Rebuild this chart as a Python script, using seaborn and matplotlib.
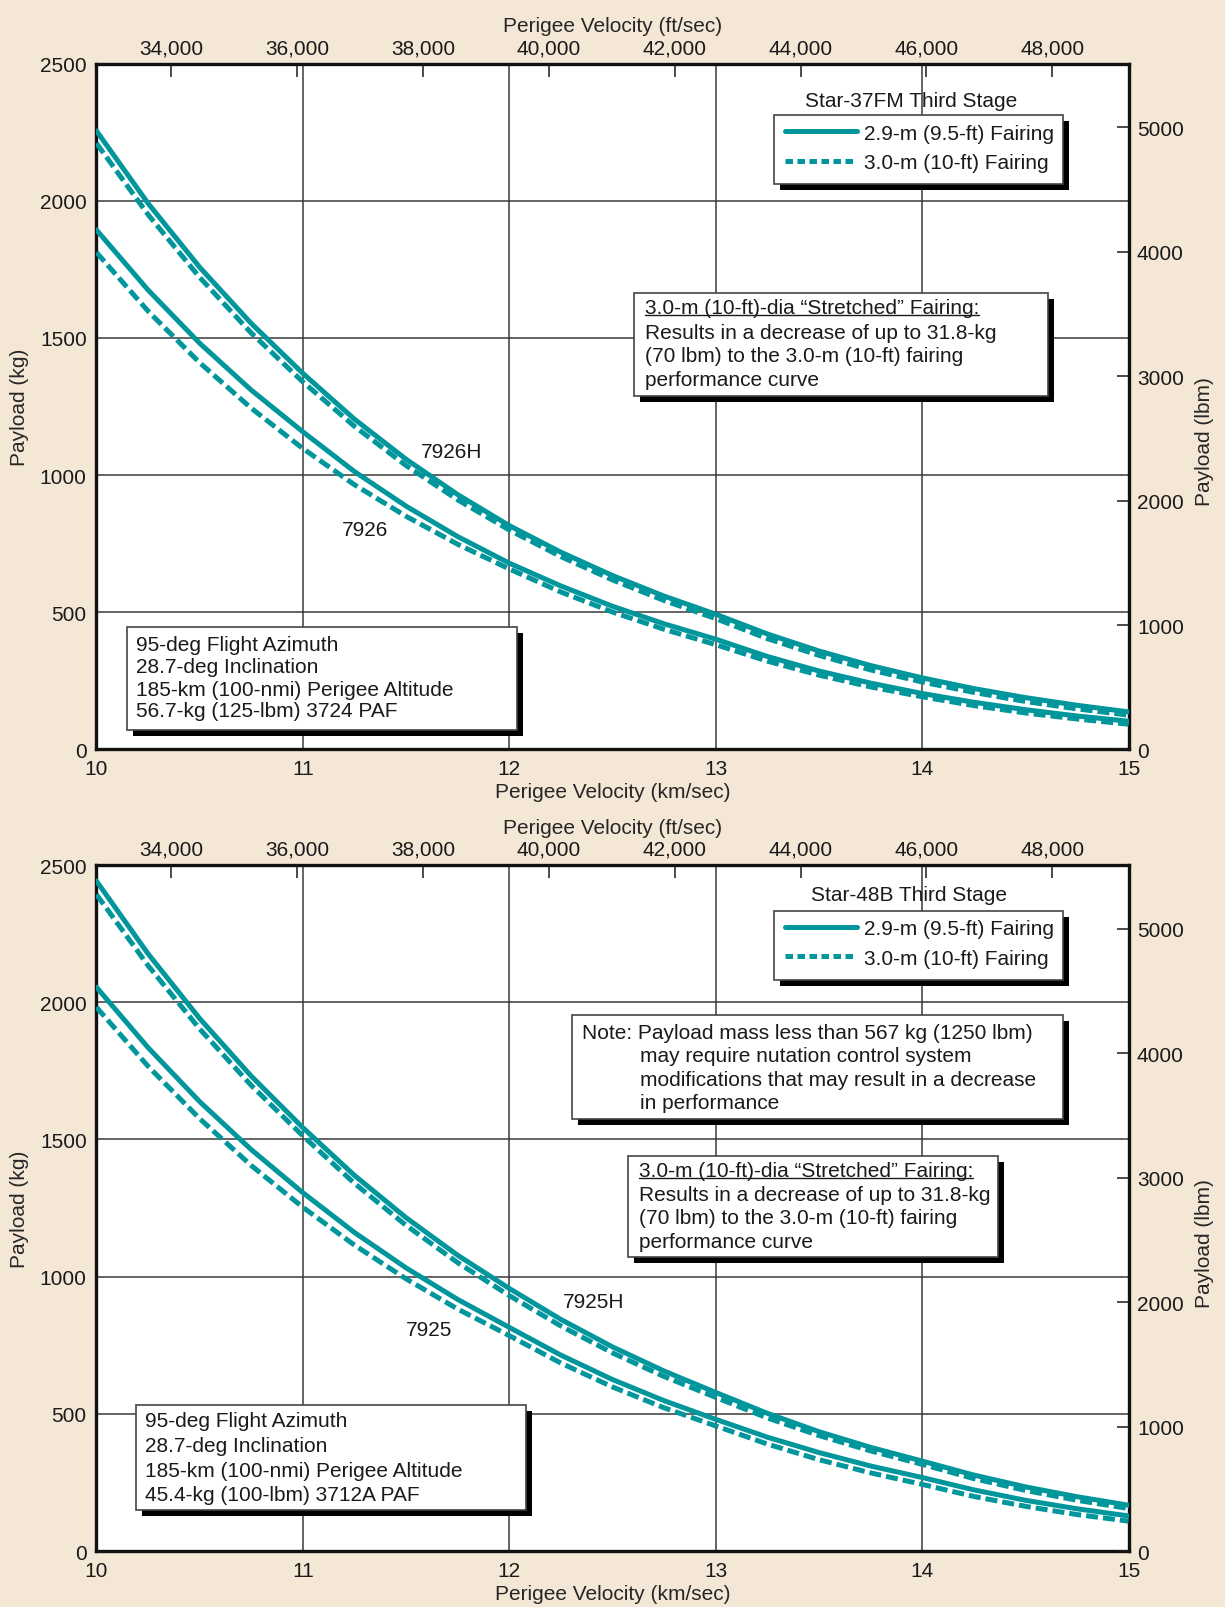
import matplotlib
matplotlib.use('Agg')
import pandas as pd
import matplotlib.pyplot as plt
import seaborn as sns
from matplotlib.patches import Rectangle
from matplotlib.lines import Line2D
from matplotlib.transforms import offset_copy
from matplotlib.ticker import FuncFormatter

# Perigee velocity (km/sec) sample points
velocity_kms = [10.0, 10.25, 10.5, 10.75, 11.0, 11.25, 11.5, 11.75, 12.0, 12.25, 12.5,
                12.75, 13.0, 13.25, 13.5, 13.75, 14.0, 14.25, 14.5, 14.75, 15.0]

# Star-37FM third stage, payload (kg)
v7926h_29 = [2255, 1991, 1758, 1553, 1371, 1204, 1058, 929, 816, 719, 634,
             559, 493, 421, 359, 306, 261, 222, 189, 161, 137]
v7926h_30 = [2210, 1950, 1721, 1518, 1340, 1178, 1035, 910, 800, 703, 618,
             543, 477, 404, 343, 290, 246, 208, 175, 148, 125]
v7926_29 = [1894, 1675, 1481, 1310, 1158, 1013, 887, 776, 679, 596, 522,
            458, 402, 339, 286, 242, 204, 172, 145, 122, 103]
v7926_30 = [1812, 1598, 1410, 1244, 1097, 965, 850, 748, 658, 574, 501,
            438, 382, 322, 271, 228, 192, 160, 133, 111, 92]

# Star-48B third stage, payload (kg)
v7925h_29 = [2442, 2177, 1941, 1731, 1543, 1369, 1215, 1078, 957, 844, 744,
             656, 578, 502, 435, 378, 328, 277, 234, 198, 167]
v7925h_30 = [2393, 2134, 1903, 1697, 1513, 1340, 1187, 1051, 931, 820, 722,
             636, 560, 485, 421, 365, 316, 264, 221, 185, 155]
v7925_29 = [2055, 1835, 1638, 1463, 1306, 1161, 1032, 917, 815, 714, 625,
            548, 480, 415, 359, 310, 268, 223, 185, 154, 128]
v7925_30 = [1982, 1767, 1576, 1405, 1253, 1115, 992, 882, 785, 685, 598,
            522, 456, 390, 333, 285, 243, 199, 163, 133, 109]

fairings = ['2.9-m (9.5-ft) Fairing', '3.0-m (10-ft) Fairing']
ft_ticks = [34000, 36000, 38000, 40000, 42000, 44000, 46000, 48000]
lbm_ticks = [0, 1000, 2000, 3000, 4000, 5000]

KM_TO_FT = 3280.84
KG_TO_LB = 2.20462
TEAL = '#00969c'
BEIGE = '#f4e7d5'
FS = 15


def make_df(curves):
    rows = []
    for vehicle, fairing, vals in curves:
        for v, p in zip(velocity_kms, vals):
            rows.append({'km': v, 'kg': p, 'vehicle': vehicle, 'fairing': fairing})
    return pd.DataFrame(rows)


df_top = make_df([('7926H', fairings[0], v7926h_29), ('7926H', fairings[1], v7926h_30),
                  ('7926', fairings[0], v7926_29), ('7926', fairings[1], v7926_30)])
df_bot = make_df([('7925H', fairings[0], v7925h_29), ('7925H', fairings[1], v7925h_30),
                  ('7925', fairings[0], v7925_29), ('7925', fairings[1], v7925_30)])

sns.set_theme(style='white')
plt.rcParams['font.family'] = ['Liberation Sans', 'DejaVu Sans']
plt.rcParams['text.color'] = '#1a1a1a'

fig = plt.figure(figsize=(12.25, 16.08), dpi=100, facecolor=BEIGE)
ax1 = fig.add_axes([0.0787, 0.5333, 0.8426, 0.4265])
ax2 = fig.add_axes([0.0787, 0.0348, 0.8426, 0.4266])

DASH = (2.4, 1.0)
LW = 3.6


def box(ax, x0, y0, x1, y1):
    sh = offset_copy(ax.transData, fig=fig, x=6, y=-6, units='dots')
    ax.add_patch(Rectangle((x0, y0), x1 - x0, y1 - y0, transform=sh,
                           facecolor='black', edgecolor='none', zorder=4))
    ax.add_patch(Rectangle((x0, y0), x1 - x0, y1 - y0, facecolor='white',
                           edgecolor='#444444', linewidth=1.2, zorder=4.5))


def lines_text(ax, x, ys, texts, xs=None):
    out = []
    for i, (y, t) in enumerate(zip(ys, texts)):
        xx = x if xs is None else xs[i]
        out.append(ax.text(xx, y, t, fontsize=FS, va='center', ha='left', zorder=6))
    return out


def setup(ax, df, legend_xy):
    sns.lineplot(data=df, x='km', y='kg', style='fairing', units='vehicle',
                 estimator=None, color=TEAL, linewidth=LW, legend=False,
                 style_order=fairings, dashes={fairings[0]: '', fairings[1]: DASH},
                 sort=False, ax=ax, zorder=3)
    ax.set_facecolor('white')
    ax.set_xlim(10, 15)
    ax.set_ylim(0, 2500)
    ax.set_xticks([10, 11, 12, 13, 14, 15])
    ax.set_yticks([0, 500, 1000, 1500, 2000, 2500])
    ax.grid(True, color='#3a3a3a', linewidth=1.1)
    ax.set_axisbelow(True)
    for s in ax.spines.values():
        s.set_color('#111111')
        s.set_linewidth(2.4)
    ax.tick_params(length=0, pad=7, labelsize=FS, colors='#1a1a1a')
    ax.set_xlabel('Perigee Velocity (km/sec)', fontsize=FS, labelpad=3)
    ax.set_ylabel('Payload (kg)', fontsize=FS, labelpad=8)

    axt = ax.twiny()
    axt.set_xlim(10 * KM_TO_FT, 15 * KM_TO_FT)
    axt.set_xticks(ft_ticks)
    axt.xaxis.set_major_formatter(FuncFormatter(lambda v, p: f'{int(v):,}'))
    axt.tick_params(axis='x', direction='in', length=9, width=1.1, pad=4.5,
                    labelsize=FS, colors='#1a1a1a')
    axt.set_xlabel('Perigee Velocity (ft/sec)', fontsize=FS, labelpad=5)
    axr = ax.twinx()
    axr.set_ylim(0, 2500 * KG_TO_LB)
    axr.set_yticks(lbm_ticks)
    axr.tick_params(axis='y', direction='in', length=9, width=1.1, pad=6,
                    labelsize=FS, colors='#1a1a1a')
    axr.set_ylabel('Payload (lbm)', fontsize=FS)
    axr.yaxis.set_label_coords(1.064, 0.45)
    for a in (axt, axr):
        for s in a.spines.values():
            s.set_visible(False)
        a.grid(False)

    handles = [Line2D([], [], color=TEAL, lw=LW),
               Line2D([], [], color=TEAL, lw=LW, dashes=(1.5, 0.9))]
    ax.legend(handles, fairings, loc='center left', bbox_to_anchor=legend_xy,
              bbox_transform=ax.transData, frameon=False, borderpad=0,
              borderaxespad=0, handlelength=3.45, handletextpad=0.35,
              labelspacing=0.5, fontsize=FS).set_zorder(6)


# ---- top panel: Star-37FM ----
setup(ax1, df_top, (13.336, 2193))
ax1.text(13.947, 2365, 'Star-37FM Third Stage', fontsize=FS, ha='center', va='center', zorder=6)
box(ax1, 13.282, 2063, 14.682, 2313)
box(ax1, 12.602, 1289, 14.608, 1663)
stretched1 = lines_text(ax1, 12.656, [1611, 1521, 1435, 1349],
                        ['3.0-m (10-ft)-dia \u201cStretched\u201d Fairing:',
                         'Results in a decrease of up to 31.8-kg',
                         '(70 lbm) to the 3.0-m (10-ft) fairing',
                         'performance curve'])
box(ax1, 10.149, 71, 12.036, 448)
lines_text(ax1, 10.194, [381, 303, 220, 142],
           ['95-deg Flight Azimuth', '28.7-deg Inclination',
            '185-km (100-nmi) Perigee Altitude', '56.7-kg (125-lbm) 3724 PAF'])
ax1.text(11.72, 1087, '7926H', fontsize=FS, ha='center', va='center', zorder=6)
ax1.text(11.30, 803, '7926', fontsize=FS, ha='center', va='center', zorder=6)

# ---- bottom panel: Star-48B ----
setup(ax2, df_bot, (13.336, 2214))
ax2.text(13.937, 2392, 'Star-48B Third Stage', fontsize=FS, ha='center', va='center', zorder=6)
box(ax2, 13.282, 2081, 14.682, 2332)
box(ax2, 12.304, 1573, 14.682, 1954)
lines_text(ax2, 12.354, [1891, 1805, 1719, 1633],
           ['Note: Payload mass less than 567 kg (1250 lbm)',
            'may require nutation control system',
            'modifications that may result in a decrease',
            'in performance'],
           xs=[12.354, 12.632, 12.632, 12.632])
box(ax2, 12.577, 1072, 14.369, 1439)
stretched2 = lines_text(ax2, 12.627, [1386, 1300, 1215, 1129],
                        ['3.0-m (10-ft)-dia \u201cStretched\u201d Fairing:',
                         'Results in a decrease of up to 31.8-kg',
                         '(70 lbm) to the 3.0-m (10-ft) fairing',
                         'performance curve'])
box(ax2, 10.194, 149, 12.080, 534)
lines_text(ax2, 10.233, [475, 385, 295, 206],
           ['95-deg Flight Azimuth', '28.7-deg Inclination',
            '185-km (100-nmi) Perigee Altitude', '45.4-kg (100-lbm) 3712A PAF'])
ax2.text(12.41, 908, '7925H', fontsize=FS, ha='center', va='center', zorder=6)
ax2.text(11.61, 807, '7925', fontsize=FS, ha='center', va='center', zorder=6)

# underline the "Stretched" headings
fig.canvas.draw()
inv = fig.transFigure.inverted()
for t in (stretched1[0], stretched2[0]):
    bb = t.get_window_extent()
    yb = bb.y0 + 2.5
    (x0, y0), (x1, _) = inv.transform([(bb.x0, yb), (bb.x1, yb)])
    fig.add_artist(Line2D([x0, x1], [y0, y0], color='#1a1a1a', lw=1.0, zorder=10))

fig.savefig('out.png', dpi=100, facecolor=BEIGE)
